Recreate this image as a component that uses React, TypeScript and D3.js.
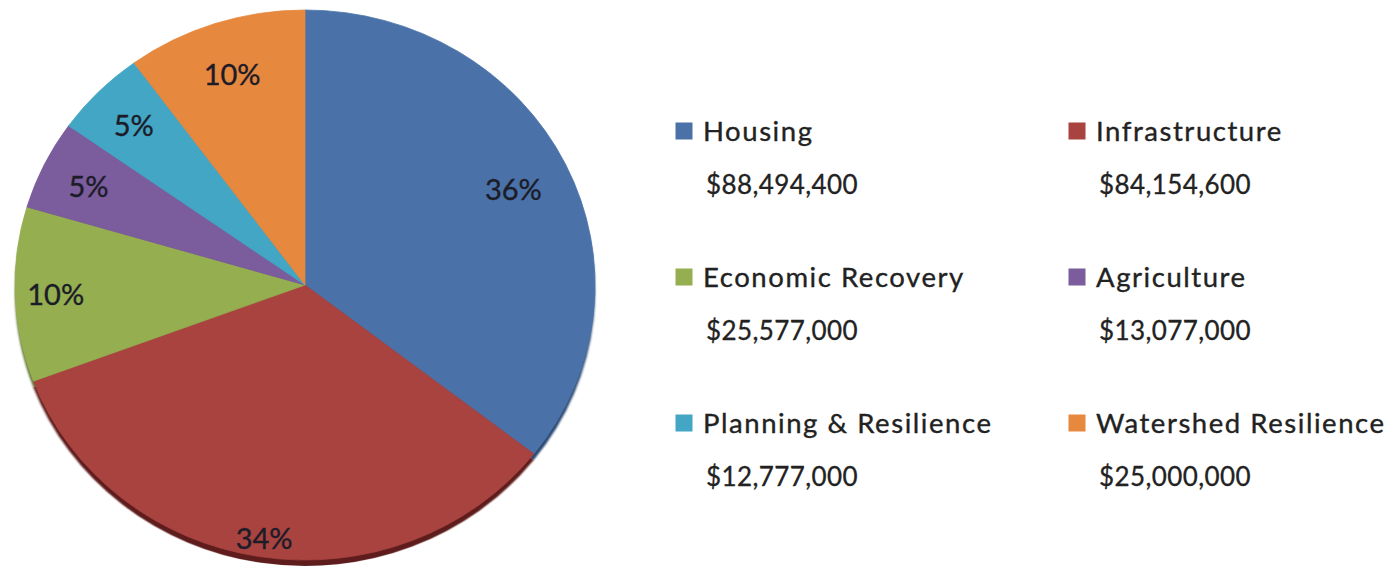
import React from 'react';
import * as d3 from 'd3';

const categories = [
  'Housing',
  'Infrastructure',
  'Economic Recovery',
  'Agriculture',
  'Planning & Resilience',
  'Watershed Resilience',
];
const amounts = [88494400, 84154600, 25577000, 13077000, 12777000, 25000000];
const colors = ['#4a72a9', '#a8433f', '#94ae50', '#7b5c9c', '#42a6c4', '#e6883e'];
const sideColors = ['#2f4c74', '#5e1d1b', '#5f7230', '#4e3766', '#2a6f84', '#9a5522'];

// style constants
const W = 1397;
const H = 577;
const CX = 305;
const CY = 285;
const RX = 290;
const RY = 275;
const DEPTH = 6;
const LABEL_RADIUS: Record<string, number> = {
  Housing: 0.8,
  Infrastructure: 0.93,
  'Economic Recovery': 0.86,
  Agriculture: 0.83,
  'Planning & Resilience': 0.83,
  'Watershed Resilience': 0.81,
};

const FONT = 'Lato, "Open Sans", sans-serif';

export default function App() {
  const total = d3.sum(amounts);
  const pie = d3
    .pie<number>()
    .sort(null)
    .startAngle(0)
    .endAngle(2 * Math.PI)
    .value((d) => d);
  const arcs = pie(amounts);
  const arc = d3.arc<d3.PieArcDatum<number>>().innerRadius(0).outerRadius(RX);
  const pct = d3.format('.0%');
  const money = d3.format('$,');

  const colX = d3.scaleOrdinal<number, number>().domain([0, 1]).range([676, 1069]);
  const rowY = d3.scaleLinear().domain([0, 2]).range([141, 433]);

  return (
    <svg
      width={W}
      height={H}
      style={{ position: 'absolute', left: 0, top: 0, background: '#ffffff' }}
    >
      <defs>
        <filter id="soft" x="-5%" y="-5%" width="110%" height="110%">
          <feGaussianBlur stdDeviation="0.8" />
        </filter>
      </defs>
      {/* side / shadow */}
      <g transform={`translate(${CX},${CY + DEPTH}) scale(1,${RY / RX})`} filter="url(#soft)">
        {arcs.map((a, i) => (
          <path key={'s' + i} d={arc(a) || ''} fill={sideColors[i]} />
        ))}
      </g>
      <g transform={`translate(${CX},${CY}) scale(1,${RY / RX})`}>
        {arcs.map((a, i) => (
          <path key={'p' + i} d={arc(a) || ''} fill={colors[i]} stroke={colors[i]} strokeWidth={0.8} />
        ))}
      </g>
      {arcs.map((a, i) => {
        const mid = (a.startAngle + a.endAngle) / 2;
        const f = LABEL_RADIUS[categories[i]];
        const x = CX + Math.sin(mid) * RX * f;
        const y = CY - Math.cos(mid) * RY * f;
        return (
          <text
            key={'l' + i}
            x={x}
            y={y}
            textAnchor="middle"
            dominantBaseline="central"
            fontFamily={FONT}
            fontSize={29}
            fill="#1c1c28"
            stroke="#1c1c28"
            strokeWidth={0.35}
          >
            {pct(a.value / total)}
          </text>
        );
      })}
      {categories.map((c, i) => {
        const col = i % 2;
        const row = Math.floor(i / 2);
        const x = colX(col);
        const y = rowY(row);
        return (
          <g key={'g' + i}>
            <rect x={x - 0.5} y={y - 18.5} width={17} height={17} fill={colors[i]} />
            <text
              x={x + 27}
              y={y}
              fontFamily={FONT}
              fontSize={27.5}
              letterSpacing={1.55}
              fill="#222222"
              stroke="#222222"
              strokeWidth={0.35}
            >
              {c}
            </text>
            <text
              x={x + 30}
              y={y + 53}
              fontFamily={FONT}
              fontSize={26}
              letterSpacing={0.4}
              fill="#222222"
              stroke="#222222"
              strokeWidth={0.3}
            >
              {money(amounts[i])}
            </text>
          </g>
        );
      })}
    </svg>
  );
}
